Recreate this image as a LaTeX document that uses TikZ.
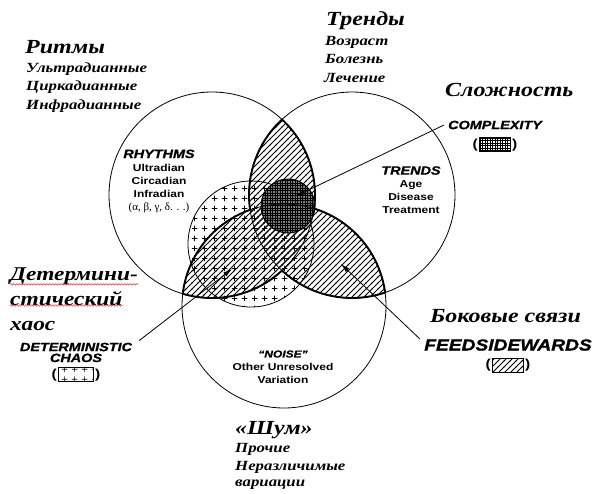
\documentclass[tikz,border=0pt]{standalone}
\usepackage{fontspec}
\setmainfont{Liberation Serif}
\newfontfamily\rusfont[FakeStretch=1.2]{Liberation Serif}
\newfontfamily\engfont[FakeStretch=1.2]{Liberation Sans}
\newfontfamily\engheavy[FakeStretch=1.2,FakeBold=1.2]{Liberation Sans}
\usepackage{xcolor}
\definecolor{Black}{RGB}{0,0,0}
\definecolor{White}{RGB}{255,255,255}
\definecolor{Squiggle}{RGB}{214,48,48}
\usetikzlibrary{patterns,positioning,arrows.meta,decorations.pathmorphing}

% Fill patterns
\pgfdeclarepatternformonly{feedlines}{\pgfqpoint{-1pt}{-1pt}}{\pgfqpoint{7pt}{7pt}}{\pgfqpoint{6pt}{6pt}}{%
	\pgfsetlinewidth{0.85pt}%
	\pgfpathmoveto{\pgfqpoint{-0.5pt}{-0.5pt}}\pgfpathlineto{\pgfqpoint{6.5pt}{6.5pt}}%
	\pgfusepath{stroke}}
\pgfdeclarepatternformonly{plusmarks}{\pgfqpoint{0pt}{0pt}}{\pgfqpoint{10pt}{10pt}}{\pgfqpoint{10pt}{10pt}}{%
	\pgfsetlinewidth{0.75pt}%
	\pgfpathmoveto{\pgfqpoint{2pt}{5pt}}\pgfpathlineto{\pgfqpoint{8pt}{5pt}}%
	\pgfpathmoveto{\pgfqpoint{5pt}{2pt}}\pgfpathlineto{\pgfqpoint{5pt}{8pt}}%
	\pgfusepath{stroke}}
\pgfdeclarepatternformonly{gridfine}{\pgfqpoint{-0.5pt}{-0.5pt}}{\pgfqpoint{3pt}{3pt}}{\pgfqpoint{2.5pt}{2.5pt}}{%
	\pgfsetlinewidth{0.6pt}%
	\pgfpathmoveto{\pgfqpoint{0pt}{0pt}}\pgfpathlineto{\pgfqpoint{2.5pt}{0pt}}%
	\pgfpathmoveto{\pgfqpoint{0pt}{0pt}}\pgfpathlineto{\pgfqpoint{0pt}{2.5pt}}%
	\pgfusepath{stroke}}

\begin{document}
\begin{tikzpicture}[x=1pt, y=-1pt,
		thincircle/.style={draw=Black, line width=0.8pt},
		trefoil/.style={draw=Black, line width=1.9pt, line cap=round, line join=round},
		leader/.style={draw=Black, line width=0.8pt, -{Latex[length=9pt,width=5pt]}},
		rushead/.style={anchor=base west, inner sep=0pt, font=\rusfont\bfseries\itshape\fontsize{20}{24}\selectfont},
		rusbig/.style={anchor=base west, inner sep=0pt, font=\rusfont\bfseries\itshape\fontsize{19.5}{24}\selectfont},
		russub/.style={anchor=base west, inner sep=0pt, font=\rusfont\bfseries\itshape\fontsize{14}{18}\selectfont},
		engblock/.style={align=center, inner sep=0pt, font=\engfont\bfseries\fontsize{10}{13}\selectfont},
		enghead/.style={inner sep=0pt, font=\engheavy\bfseries\itshape\fontsize{12}{13}\selectfont},
		legbox/.style={draw=Black, line width=0.8pt, minimum width=31pt, minimum height=14pt, inner sep=0pt},
		paren/.style={inner sep=0pt, font=\engfont\bfseries\fontsize{13}{13}\selectfont},
		squiggle/.style={draw=Squiggle, line width=0.5pt, decorate, decoration={snake, amplitude=0.8pt, segment length=3pt}}]
	
	\useasboundingbox (0,0) rectangle (597,493);
	
	% Circle centres
	\coordinate (lc) at (212,195);
	\coordinate (rc) at (352,195);
	\coordinate (bc) at (284,306);
	\coordinate (chc) at (251,244);
	\coordinate (cxc) at (288,206);
	
	% Hatching of the pairwise overlaps
	\begin{scope}
		\clip (lc) circle[radius=103];
		\fill[pattern=feedlines] (rc) circle[radius=103];
		\fill[pattern=feedlines] (bc) circle[radius=102];
	\end{scope}
	\begin{scope}
		\clip (rc) circle[radius=103];
		\fill[pattern=feedlines] (bc) circle[radius=102];
	\end{scope}
	
	% Deterministic chaos
	\fill[pattern=plusmarks] (chc) circle[radius=63];
	\draw[thincircle] (chc) circle[radius=63];
	
	% Complexity
	\fill[Black!50] (cxc) circle[radius=27];
	\fill[pattern=gridfine] (cxc) circle[radius=27];
	\draw[thincircle, line width=1pt] (cxc) circle[radius=27];
	
	% Circles
	\draw[thincircle] (lc) circle[radius=103];
	\draw[thincircle] (rc) circle[radius=103];
	\draw[thincircle] (bc) circle[radius=102];
	
	% Trefoil outline
	\draw[trefoil] (rc) ++(227.19:103) arc[start angle=227.19, end angle=171.73, radius=103];
	\draw[trefoil] (bc) ++(250.57:102) arc[start angle=250.57, end angle=186.89, radius=102];
	\draw[trefoil] (lc) ++(106.50:103) arc[start angle=106.50, end angle=47.19, radius=103];
	\draw[trefoil] (rc) ++(132.81:103) arc[start angle=132.81, end angle=71.25, radius=103];
	\draw[trefoil] (bc) ++(-7.59:102) arc[start angle=-7.59, end angle=-72.83, radius=102];
	\draw[trefoil] (lc) ++(7.56:103) arc[start angle=7.56, end angle=-47.19, radius=103];
	
	% Text inside the circles
	\node[engblock] (rhythms) at (159,181) {{\engheavy\fontsize{12}{13}\selectfont\itshape RHYTHMS}\\Ultradian\\Circadian\\Infradian\\{\rmfamily\mdseries\fontsize{11}{13}\selectfont(α, β, γ, δ. . .)}};
	\node[engblock] (trends) at (411,190) {{\engheavy\fontsize{12}{13}\selectfont\itshape TRENDS}\\Age\\Disease\\Treatment};
	\node[engblock] (noise) at (283,367) {{\engheavy\itshape “NOISE”}\\Other Unresolved\\Variation};
	
	% Key labels
	\node[enghead] (cplx) at (495,125) {COMPLEXITY};
	\node[legbox, pattern=gridfine, below=8pt of cplx] (cplxkey) {};
	\node[paren, left=1pt of cplxkey] {(};
	\node[paren, right=1pt of cplxkey] {)};
	
	\node[enghead] (determ) at (76,347) {DETERMINISTIC};
	\node[enghead, below=2pt of determ] (chaos) {CHAOS};
	\node[legbox, pattern=plusmarks, minimum width=35pt, below=5pt of chaos] (chaoskey) {};
	\node[paren, left=1pt of chaoskey] {(};
	\node[paren, right=1pt of chaoskey] {)};
	
	\node[enghead, font=\engheavy\bfseries\itshape\fontsize{16}{17}\selectfont] (feeds) at (508,345) {FEEDSIDEWARDS};
	\node[legbox, pattern=feedlines, below=7pt of feeds] (feedkey) {};
	\node[paren, left=1pt of feedkey] {(};
	\node[paren, right=1pt of feedkey] {)};
	
	% Leaders
	\coordinate (cplxtip) at (296,196);
	\coordinate (chaostip) at (232,269);
	\coordinate (feedtip) at (341,264);
	\draw[leader] ([xshift=-4pt]cplx.west) -- (cplxtip);
	\draw[leader] ([xshift=7pt,yshift=2pt]determ.north east) -- (chaostip);
	\draw[leader] ([xshift=-4pt]feeds.north west) -- (feedtip);
	
	% Russian labels
	\node[rushead] (ritmy) at (25,53) {Ритмы};
	\node[russub] (ultra) at (26,72) {Ультрадианные};
	\node[russub] (cirk) at (26,90.5) {Циркадианные};
	\node[russub] (infra) at (26,109) {Инфрадианные};
	
	\node[rushead] (trendy) at (326,25) {Тренды};
	\node[russub] (vozr) at (325,45) {Возраст};
	\node[russub] (bolezn) at (325,63) {Болезнь};
	\node[russub] (lech) at (324,82) {Лечение};
	
	\node[rushead] (slozh) at (445,96) {Сложность};
	
	\node[rusbig] (det1) at (10,280) {Детермини-};
	\node[rusbig] (det2) at (10,305) {стический};
	\node[rusbig] (det3) at (10,330) {хаос};
	\draw[squiggle] (det1.south west) -- (det1.south east);
	\draw[squiggle] (det2.south west) -- (det2.south east);
	
	\node[rushead] (bokov) at (430,322) {Боковые связи};
	
	\node[rushead] (shum) at (235,434) {«Шум»};
	\node[russub] (proch) at (235,452) {Прочие};
	\node[russub] (nerazl) at (235,470) {Неразличимые};
	\node[russub] (variac) at (235,486) {вариации};
	
\end{tikzpicture}
\end{document}
